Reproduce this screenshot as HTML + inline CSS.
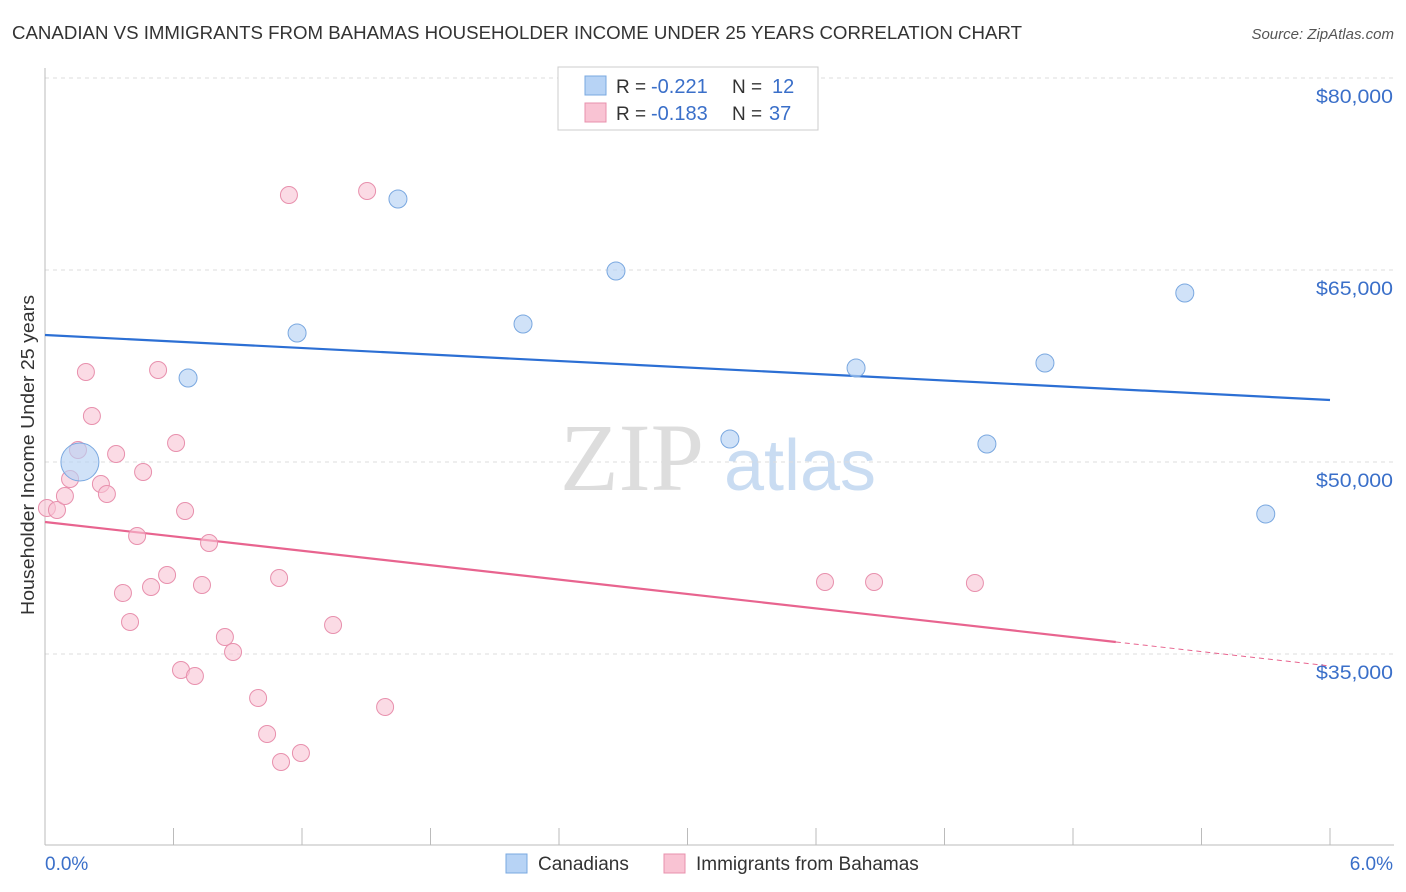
<!DOCTYPE html>
<html><head><meta charset="utf-8"><style>
body{margin:0;background:#fff;font-family:"Liberation Sans",sans-serif;}
svg{display:block}
</style></head><body>
<svg id="chart" width="1406" height="892" viewBox="0 0 1406 892">
<text x="12" y="39" font-size="18" fill="#333" textLength="1010" lengthAdjust="spacingAndGlyphs">CANADIAN VS IMMIGRANTS FROM BAHAMAS HOUSEHOLDER INCOME UNDER 25 YEARS CORRELATION CHART</text>
<text x="1394" y="39" font-size="15" fill="#555" font-style="italic" text-anchor="end">Source: ZipAtlas.com</text>
<text x="632" y="490" font-size="96" fill="#ddd" font-family="Liberation Serif" text-anchor="middle">ZIP</text>
<text x="800" y="490" font-size="72" fill="#c9dcf2" text-anchor="middle">atlas</text>
<g id="grid"></g>
<g id="axes"></g>
<g id="lines"></g>
<g id="points"></g>
<text x="34" y="455" font-size="18" fill="#333" text-anchor="middle" transform="rotate(-90 34 455)" textLength="320" lengthAdjust="spacingAndGlyphs">Householder Income Under 25 years</text>
<text x="45" y="870" font-size="19" fill="#3a6fc9">0.0%</text>
<text x="1393" y="870" font-size="19" fill="#3a6fc9" text-anchor="end">6.0%</text>
<g>
<rect x="558" y="67" width="260" height="63" fill="#fff" stroke="#ccc"/>
<rect x="585" y="76" width="21" height="19" fill="#b7d3f5" stroke="#7aa8e0"/>
<rect x="585" y="103" width="21" height="19" fill="#f9c3d3" stroke="#e890ad"/>
<text x="616" y="93" font-size="19" fill="#333">R = </text>
<text x="651" y="93" font-size="20" fill="#3a6fc9">-0.221</text>
<text x="732" y="93" font-size="19" fill="#333">N = </text>
<text x="772" y="93" font-size="20" fill="#3a6fc9">12</text>
<text x="616" y="120" font-size="19" fill="#333">R = </text>
<text x="651" y="120" font-size="20" fill="#3a6fc9">-0.183</text>
<text x="732" y="120" font-size="19" fill="#333">N = </text>
<text x="769" y="120" font-size="20" fill="#3a6fc9">37</text>
</g>
<g>
<rect x="506" y="854" width="21" height="19" fill="#b7d3f5" stroke="#7aa8e0"/>
<text x="538" y="870" font-size="19" fill="#333">Canadians</text>
<rect x="664" y="854" width="21" height="19" fill="#f9c3d3" stroke="#e890ad"/>
<text x="696" y="870" font-size="19" fill="#333">Immigrants from Bahamas</text>
</g>
</svg>
<script>
const yTicks=[35000,50000,65000,80000];
const yTickLabels=["$35,000","$50,000","$65,000","$80,000"];
const canX=[0.668,1.177,1.648,2.232,2.666,3.198,3.787,4.398,4.669,5.322,5.700,0.163];
const canY=[56563,60078,70547,60781,64922,51797,57344,51406,57734,63203,45938,50000];
const canR=[9,9,9,9,9,9,9,9,9,9,9,19];
const bahX=[0.009,0.056,0.093,0.117,0.154,0.191,0.219,0.261,0.289,0.332,0.364,0.397,0.430,0.458,0.495,0.528,0.570,0.612,0.635,0.654,0.700,0.733,0.766,0.840,0.878,0.995,1.037,1.093,1.102,1.139,1.195,1.345,1.504,1.588,3.642,3.871,4.342];
const bahY=[46406,46250,47344,48672,50938,57031,53594,48281,47500,50625,39766,37500,44219,49219,40234,57188,41172,51484,33750,46172,33281,40391,43672,36328,35156,31563,28750,40938,26563,70859,27266,37266,71172,30859,40625,40625,40547];
const canTrend=[59922,54844];
const bahTrend=[45313,34063];
const NS="http://www.w3.org/2000/svg";
const X=v=>45+v/6*1285;
const Y=v=>78+(80000-v)*0.0128;
function mk(tag,attrs,parent){const e=document.createElementNS(NS,tag);for(const k in attrs)e.setAttribute(k,attrs[k]);document.getElementById(parent).appendChild(e);return e;}
yTicks.forEach((t,i)=>{
 const l=mk('line',{x1:45,x2:1394,y1:Y(t),y2:Y(t),stroke:'#ddd','stroke-dasharray':'4 4'},'grid');
 
 
 const tx=mk('text',{x:1393,y:Y(t)+25,'font-size':19.5,fill:'#3a6fc9','text-anchor':'end',textLength:77,lengthAdjust:'spacingAndGlyphs'},'grid');
 tx.textContent=yTickLabels[i];
 
 
});
const ax=mk('line',{x1:45,x2:45,y1:68,y2:845,stroke:'#bbb'},'axes');


const bx=mk('line',{x1:45,x2:1394,y1:845,y2:845,stroke:'#bbb'},'axes');


for(let i=1;i<=10;i++){
 const t=mk('line',{x1:X(i*0.6),x2:X(i*0.6),y1:828,y2:845,stroke:'#bbb'},'axes');
 
 
}
const bl=mk('line',{x1:X(0),y1:Y(canTrend[0]),x2:X(6),y2:Y(canTrend[1]),stroke:'#2c6fd4','stroke-width':2.2},'lines');


const py=x=>bahTrend[0]+(bahTrend[1]-bahTrend[0])*x/6;
const pl=mk('line',{x1:X(0),y1:Y(bahTrend[0]),x2:X(5),y2:Y(py(5)),stroke:'#e8648f','stroke-width':2.2},'lines');


const pd=mk('line',{x1:X(5),y1:Y(py(5)),x2:X(6),y2:Y(bahTrend[1]),stroke:'#e8648f','stroke-width':1,'stroke-dasharray':'5 4'},'lines');


bahX.forEach((x,i)=>{
 const c=mk('circle',{cx:X(x),cy:Y(bahY[i]),r:8.5,fill:'#f9c3d3','fill-opacity':0.6,stroke:'#e890ad','stroke-width':1},'points');
 
 
});
canX.forEach((x,i)=>{
 const c=mk('circle',{cx:X(x),cy:Y(canY[i]),r:canR[i],fill:'#b7d3f5','fill-opacity':0.65,stroke:'#7aa8e0','stroke-width':1},'points');
 
 
});
</script>
</body></html>
